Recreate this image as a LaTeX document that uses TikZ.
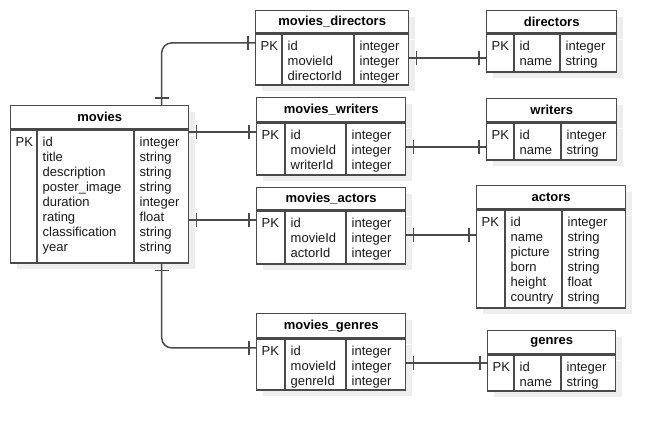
\documentclass[tikz,border=0pt]{standalone}
\usepackage{fontspec}
\setmainfont{Liberation Sans}
\usetikzlibrary{calc,shadows,decorations.markings}
\definecolor{linegray}{HTML}{4A4A4A}
\definecolor{shadegray}{HTML}{EEEEEE}
\tikzset{
  tablehead/.style={draw=linegray, line width=1.4pt, fill=white, anchor=north west, inner sep=0pt,
    font=\fontsize{13}{15}\selectfont\bfseries,
    drop shadow={shadow xshift=6pt, shadow yshift=-6pt, fill=shadegray, opacity=1}},
  tablebody/.style={draw=linegray, line width=1.4pt, fill=white, anchor=north west, inner sep=0pt,
    drop shadow={shadow xshift=6pt, shadow yshift=-6pt, fill=shadegray, opacity=1}},
  coltext/.style={anchor=north west, inner sep=0pt, align=left, text=black!90,
    font=\fontsize{13}{15}\selectfont},
  colline/.style={draw=linegray, line width=1.4pt},
  endbar/.style={postaction={decorate}, decoration={markings,
    mark=at position 7pt with {\draw[linegray, line width=1.4pt] (0pt,-7pt) -- (0pt,7pt);},
    mark=at position -7pt with {\draw[linegray, line width=1.4pt] (0pt,-7pt) -- (0pt,7pt);}}},
  rel/.style={draw=linegray, line width=1.5pt, rounded corners=10pt, endbar}
}
\begin{document}
\begin{tikzpicture}[x=1pt, y=-1pt]
  \useasboundingbox (0,0) rectangle (665,430);

  \node[tablehead, minimum width=178pt, minimum height=23pt] (movies) at (10,105) {movies};
  \node[tablebody, minimum width=178pt, minimum height=133pt] (movies-b) at (movies.south west) {};
  \draw[colline] ([xshift=27pt]movies-b.north west) -- ([xshift=27pt]movies-b.south west);
  \draw[colline] ([xshift=124pt]movies-b.north west) -- ([xshift=124pt]movies-b.south west);
  \node[coltext] (movies-k) at ([xshift=5.5pt,yshift=-6pt]movies-b.north west) {\strut PK};
  \node[coltext] (movies-f) at ([xshift=32.5pt,yshift=-6pt]movies-b.north west)
    {\strut id\\title\\description\\poster\_image\\duration\\rating\\classification\\year};
  \node[coltext] (movies-t) at ([xshift=129.5pt,yshift=-6pt]movies-b.north west)
    {\strut integer\\string\\string\\string\\integer\\float\\string\\string};

  \node[tablehead, minimum width=153pt, minimum height=22pt] (md) at (255,10) {movies\_directors};
  \node[tablebody, minimum width=153pt, minimum height=51pt] (md-b) at (md.south west) {};
  \draw[colline] ([xshift=27pt]md-b.north west) -- ([xshift=27pt]md-b.south west);
  \draw[colline] ([xshift=99pt]md-b.north west) -- ([xshift=99pt]md-b.south west);
  \node[coltext] (md-k) at ([xshift=5.5pt,yshift=-6pt]md-b.north west) {\strut PK};
  \node[coltext] (md-f) at ([xshift=32.5pt,yshift=-6pt]md-b.north west) {\strut id\\movieId\\directorId};
  \node[coltext] (md-t) at ([xshift=104.5pt,yshift=-6pt]md-b.north west) {\strut integer\\integer\\integer};

  \node[tablehead, minimum width=130pt, minimum height=22pt] (directors) at (486,10) {directors};
  \node[tablebody, minimum width=130pt, minimum height=38pt] (directors-b) at (directors.south west) {};
  \draw[colline] ([xshift=28pt]directors-b.north west) -- ([xshift=28pt]directors-b.south west);
  \draw[colline] ([xshift=74pt]directors-b.north west) -- ([xshift=74pt]directors-b.south west);
  \node[coltext] (directors-k) at ([xshift=5.5pt,yshift=-6pt]directors-b.north west) {\strut PK};
  \node[coltext] (directors-f) at ([xshift=33.5pt,yshift=-6pt]directors-b.north west) {\strut id\\name};
  \node[coltext] (directors-t) at ([xshift=79.5pt,yshift=-6pt]directors-b.north west) {\strut integer\\string};

  \node[tablehead, minimum width=149pt, minimum height=24pt] (mw) at (256,97) {movies\_writers};
  \node[tablebody, minimum width=149pt, minimum height=52pt] (mw-b) at (mw.south west) {};
  \draw[colline] ([xshift=29pt]mw-b.north west) -- ([xshift=29pt]mw-b.south west);
  \draw[colline] ([xshift=90pt]mw-b.north west) -- ([xshift=90pt]mw-b.south west);
  \node[coltext] (mw-k) at ([xshift=5.5pt,yshift=-6pt]mw-b.north west) {\strut PK};
  \node[coltext] (mw-f) at ([xshift=34.5pt,yshift=-6pt]mw-b.north west) {\strut id\\movieId\\writerId};
  \node[coltext] (mw-t) at ([xshift=95.5pt,yshift=-6pt]mw-b.north west) {\strut integer\\integer\\integer};

  \node[tablehead, minimum width=130pt, minimum height=23pt] (writers) at (486,98) {writers};
  \node[tablebody, minimum width=130pt, minimum height=37pt] (writers-b) at (writers.south west) {};
  \draw[colline] ([xshift=28pt]writers-b.north west) -- ([xshift=28pt]writers-b.south west);
  \draw[colline] ([xshift=75pt]writers-b.north west) -- ([xshift=75pt]writers-b.south west);
  \node[coltext] (writers-k) at ([xshift=5.5pt,yshift=-6pt]writers-b.north west) {\strut PK};
  \node[coltext] (writers-f) at ([xshift=33.5pt,yshift=-6pt]writers-b.north west) {\strut id\\name};
  \node[coltext] (writers-t) at ([xshift=80.5pt,yshift=-6pt]writers-b.north west) {\strut integer\\string};

  \node[tablehead, minimum width=149pt, minimum height=22pt] (ma) at (256,187) {movies\_actors};
  \node[tablebody, minimum width=149pt, minimum height=53pt] (ma-b) at (ma.south west) {};
  \draw[colline] ([xshift=29pt]ma-b.north west) -- ([xshift=29pt]ma-b.south west);
  \draw[colline] ([xshift=90pt]ma-b.north west) -- ([xshift=90pt]ma-b.south west);
  \node[coltext] (ma-k) at ([xshift=5.5pt,yshift=-6pt]ma-b.north west) {\strut PK};
  \node[coltext] (ma-f) at ([xshift=34.5pt,yshift=-6pt]ma-b.north west) {\strut id\\movieId\\actorId};
  \node[coltext] (ma-t) at ([xshift=95.5pt,yshift=-6pt]ma-b.north west) {\strut integer\\integer\\integer};

  \node[tablehead, minimum width=149pt, minimum height=23pt] (actors) at (476,185) {actors};
  \node[tablebody, minimum width=149pt, minimum height=98pt] (actors-b) at (actors.south west) {};
  \draw[colline] ([xshift=29pt]actors-b.north west) -- ([xshift=29pt]actors-b.south west);
  \draw[colline] ([xshift=86pt]actors-b.north west) -- ([xshift=86pt]actors-b.south west);
  \node[coltext] (actors-k) at ([xshift=5.5pt,yshift=-6pt]actors-b.north west) {\strut PK};
  \node[coltext] (actors-f) at ([xshift=34.5pt,yshift=-6pt]actors-b.north west)
    {\strut id\\name\\picture\\born\\height\\country};
  \node[coltext] (actors-t) at ([xshift=91.5pt,yshift=-6pt]actors-b.north west)
    {\strut integer\\string\\string\\string\\float\\string};

  \node[tablehead, minimum width=149pt, minimum height=24pt] (mg) at (256,313) {movies\_genres};
  \node[tablebody, minimum width=149pt, minimum height=51pt] (mg-b) at (mg.south west) {};
  \draw[colline] ([xshift=29pt]mg-b.north west) -- ([xshift=29pt]mg-b.south west);
  \draw[colline] ([xshift=90pt]mg-b.north west) -- ([xshift=90pt]mg-b.south west);
  \node[coltext] (mg-k) at ([xshift=5.5pt,yshift=-6pt]mg-b.north west) {\strut PK};
  \node[coltext] (mg-f) at ([xshift=34.5pt,yshift=-6pt]mg-b.north west) {\strut id\\movieId\\genreId};
  \node[coltext] (mg-t) at ([xshift=95.5pt,yshift=-6pt]mg-b.north west) {\strut integer\\integer\\integer};

  \node[tablehead, minimum width=128pt, minimum height=23pt] (genres) at (487,330) {genres};
  \node[tablebody, minimum width=128pt, minimum height=36pt] (genres-b) at (genres.south west) {};
  \draw[colline] ([xshift=27pt]genres-b.north west) -- ([xshift=27pt]genres-b.south west);
  \draw[colline] ([xshift=74pt]genres-b.north west) -- ([xshift=74pt]genres-b.south west);
  \node[coltext] (genres-k) at ([xshift=5.5pt,yshift=-6pt]genres-b.north west) {\strut PK};
  \node[coltext] (genres-f) at ([xshift=32.5pt,yshift=-6pt]genres-b.north west) {\strut id\\name};
  \node[coltext] (genres-t) at ([xshift=79.5pt,yshift=-6pt]genres-b.north west) {\strut integer\\string};

  \coordinate (md-in) at ($(md-b.west |- md-k.north)+(0,3.5)$);
  \coordinate (mw-in) at ($(mw-b.west |- mw-k.north)+(0,3.5)$);
  \coordinate (ma-in) at ($(ma-b.west |- ma-k.north)+(0,3.5)$);
  \coordinate (mg-in) at ($(mg-b.west |- mg-k.north)+(0,3.5)$);
  \coordinate (md-out) at ($(md-b.east |- md-k.north)+(0,18.5)$);
  \coordinate (mw-out) at ($(mw-b.east |- mw-k.north)+(0,18.5)$);
  \coordinate (ma-out) at ($(ma-b.east |- ma-k.north)+(0,18.5)$);
  \coordinate (mg-out) at ($(mg-b.east |- mg-k.north)+(0,18.5)$);

  \draw[rel] ([xshift=62pt]movies.north) |- (md-in);
  \draw[rel] (mw-in -| movies-b.east) -- (mw-in);
  \draw[rel] (ma-in -| movies-b.east) -- (ma-in);
  \draw[rel] ([xshift=62pt]movies-b.south) |- (mg-in);

  \draw[rel] (md-out) -- (md-out -| directors-b.west);
  \draw[rel] (mw-out) -- (mw-out -| writers-b.west);
  \draw[rel] (ma-out) -- (ma-out -| actors-b.west);
  \draw[rel] (mg-out) -- (mg-out -| genres-b.west);
\end{tikzpicture}
\end{document}
